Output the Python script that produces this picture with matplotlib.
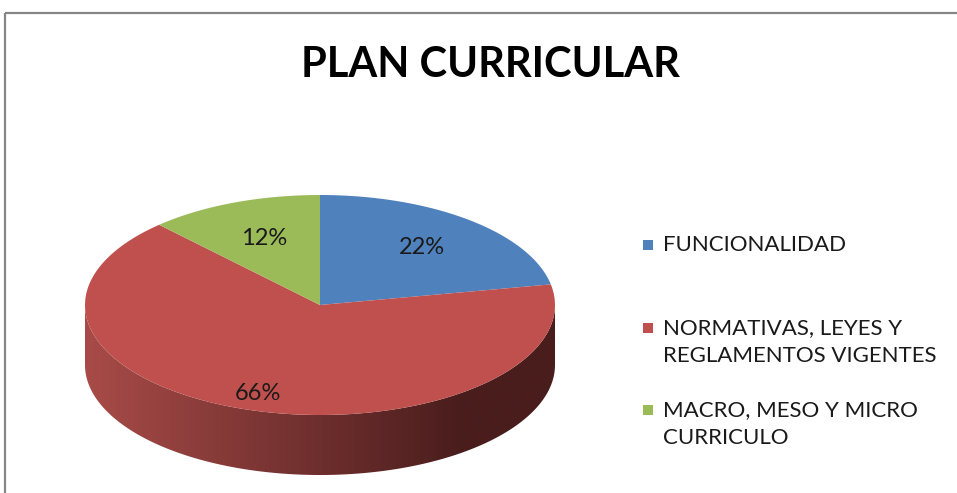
import numpy as np
import matplotlib
matplotlib.use("Agg")
import matplotlib.pyplot as plt
from matplotlib.patches import Polygon, Rectangle

categorias = ["FUNCIONALIDAD", "NORMATIVAS, LEYES Y\nREGLAMENTOS VIGENTES",
              "MACRO, MESO Y MICRO\nCURRICULO"]
valores = [22, 66, 12]
etiquetas = ["22%", "66%", "12%"]
colores = ["#4F81BD", "#C0504D", "#9BBB59"]
titulo = "PLAN CURRICULAR"

fig = plt.figure(figsize=(9.57, 4.93), dpi=100)
ax = fig.add_axes([0, 0, 1, 1])
ax.set_xlim(0, 957)
ax.set_ylim(493, 0)
ax.axis("off")

# marco del grafico
ax.add_patch(Rectangle((5, 13), 1000, 600, fill=False, ec="#868686", lw=1.6))

# geometria de la torta 3D (pixeles)
cx, cy = 320, 305
a, b = 235, 110
depth = 60

def elipse(t1, t2, n=200):
    t = np.radians(np.linspace(t1, t2, n))
    return np.column_stack([cx + a*np.cos(t), cy - b*np.sin(t)])

# lateral frontal (solo la mitad inferior es visible)
arco = elipse(180, 360)
lado = np.vstack([arco, (arco + [0, depth])[::-1]])
poly_lado = Polygon(lado, closed=True, fc="none", ec="none")
ax.add_patch(poly_lado)
xs = np.linspace(0, 1, 300)
c1 = np.array([0xA8, 0x4B, 0x48]) / 255
c2 = np.array([0x4A, 0x1D, 0x1D]) / 255
f = np.clip(xs / 0.8, 0, 1)
grad = (c1[None, :] * (1 - f[:, None]) + c2[None, :] * f[:, None])[None, :, :]
im = ax.imshow(grad, extent=[cx - a, cx + a, cy + b + depth, cy], aspect="auto",
               zorder=1)
im.set_clip_path(poly_lado)

# caras superiores
frac = np.array(valores) / sum(valores)
inicio = 90.0
label_r = [0.68, 0.85, 0.65]
for i, v in enumerate(frac):
    fin = inicio - v * 360
    pts = np.vstack([[cx, cy], elipse(fin, inicio)])
    ax.add_patch(Polygon(pts, closed=True, fc=colores[i], ec="none", zorder=2))
    mid = np.radians((inicio + fin) / 2)
    ax.text(cx + a*label_r[i]*np.cos(mid), cy - b*label_r[i]*np.sin(mid), etiquetas[i],
            ha="center", va="center", fontsize=17, family="Lato", color="#1a1a1a",
            zorder=3)
    inicio = fin

ax.text(490, 65, titulo, ha="center", va="center", fontsize=30, weight="bold",
        family="Lato", color="black")

# leyenda
ley_y = [245, 342, 424]
paso = 29
for i, cat in enumerate(categorias):
    n = cat.count("\n")
    y0 = ley_y[i] - n * paso / 2
    ax.add_patch(Rectangle((643, y0 - 5), 10, 10, fc=colores[i], ec="none"))
    ax.text(663, ley_y[i], cat, ha="left", va="center", fontsize=16,
            family="Lato", color="#1a1a1a", linespacing=1.5)

fig.savefig("out.png", dpi=100)
